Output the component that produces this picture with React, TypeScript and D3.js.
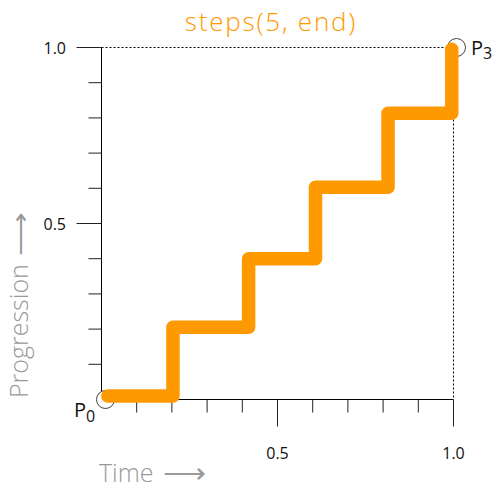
import React from "react";
import * as d3 from "d3";

// Step curve for steps(5, end): break positions along time and the progression level of each step
const stepTimes = [0.018, 0.203, 0.418, 0.608, 0.814, 0.995];
const stepLevels = [0.01, 0.205, 0.4, 0.603, 0.813, 0.995];

const minorTicks = [0.1, 0.2, 0.3, 0.4, 0.6, 0.7, 0.8, 0.9];
const majorTicks = [0.5, 1.0];
const tickLabels = ["0.5", "1.0"];

const titleText = "steps(5, end)";
const xTitle = "Time";
const yTitle = "Progression";
const ARROW = "\u27F6";

const ORANGE = "#ff9900";
const GRAY = "#9a9a9a";
const FONT = "'Open Sans', Lato, sans-serif";

export default function App() {
  const W = 500;
  const H = 500;
  const x = d3.scaleLinear().domain([0, 1]).range([101.5, 453.5]);
  const y = d3.scaleLinear().domain([0, 1]).range([399.5, 47.5]);

  const pts: [number, number][] = stepTimes.map((t, i) => [t, stepLevels[i]]);
  const line = d3
    .line<[number, number]>()
    .x((d) => x(d[0]))
    .y((d) => y(d[1]))
    .curve(d3.curveStepAfter);

  return (
    <div style={{ position: "absolute", left: 0, top: 0 }}>
      <svg width={W} height={H} style={{ display: "block", background: "#fff" }}>
        <text
          x={271}
          y={31}
          textAnchor="middle"
          fill={ORANGE}
          fontFamily={FONT}
          fontWeight={300}
          fontSize={26}
          letterSpacing={1.8}
        >
          {titleText}
        </text>

        {/* dotted guides at the end point */}
        <line x1={x(0)} x2={x(1)} y1={y(1)} y2={y(1)} stroke="#000" strokeDasharray="2,2" />
        <line x1={x(1)} x2={x(1)} y1={y(1)} y2={y(0)} stroke="#000" strokeDasharray="2,2" />

        {/* axes */}
        <line x1={x(0)} x2={x(0)} y1={y(0)} y2={y(1)} stroke="#000" />
        <line x1={x(0)} x2={x(1)} y1={y(0)} y2={y(0)} stroke="#000" />

        {minorTicks.map((t) => (
          <g key={"m" + t}>
            <line x1={x(t)} x2={x(t)} y1={y(0)} y2={y(0) + 13} stroke="#222" />
            <line x1={x(0) - 13} x2={x(0)} y1={y(t)} y2={y(t)} stroke="#222" />
          </g>
        ))}
        {majorTicks.map((t, i) => (
          <g key={"M" + t}>
            <line x1={x(t)} x2={x(t)} y1={y(0)} y2={y(0) + 27} stroke="#222" />
            <line x1={x(0) - 25} x2={x(0)} y1={y(t)} y2={y(t)} stroke="#222" />
            <text
              x={x(t)}
              y={y(0) + 59}
              textAnchor="middle"
              fontFamily={FONT}
              fontSize={16}
              fill="#111"
            >
              {tickLabels[i]}
            </text>
            <text
              x={66}
              y={y(t) + 6}
              textAnchor="end"
              fontFamily={FONT}
              fontSize={16}
              fill="#111"
            >
              {tickLabels[i]}
            </text>
          </g>
        ))}

        {/* end-point markers */}
        <circle cx={x(0) + 4} cy={y(0)} r={9} fill="#fff" stroke="#444" />
        <circle cx={x(1) + 3} cy={y(1)} r={9} fill="#fff" stroke="#444" />

        <path
          d={line(pts) || ""}
          fill="none"
          stroke={ORANGE}
          strokeWidth={13.5}
          strokeLinecap="round"
          strokeLinejoin="round"
        />

        <text x={74} y={417} fontFamily={FONT} fontSize={20} fill="#111">
          P
          <tspan fontSize={16} dy={5}>0</tspan>
        </text>
        <text x={471} y={55} fontFamily={FONT} fontSize={20} fill="#111">
          P
          <tspan fontSize={16} dy={4}>3</tspan>
        </text>

        <text x={99} y={482} fontFamily={FONT} fontWeight={300} fontSize={25} fill={GRAY}>
          {xTitle}
          <tspan dx={9} fontSize={30} dy={1}>{ARROW}</tspan>
        </text>
        <g
          transform="translate(28,398) rotate(-90)"
          fontFamily={FONT}
          fontWeight={300}
          fontSize={25}
          fill={GRAY}
        >
          <text>{yTitle}</text>
          <text transform="translate(142,1) scale(1.22,1)">{ARROW}</text>
        </g>
      </svg>
    </div>
  );
}
